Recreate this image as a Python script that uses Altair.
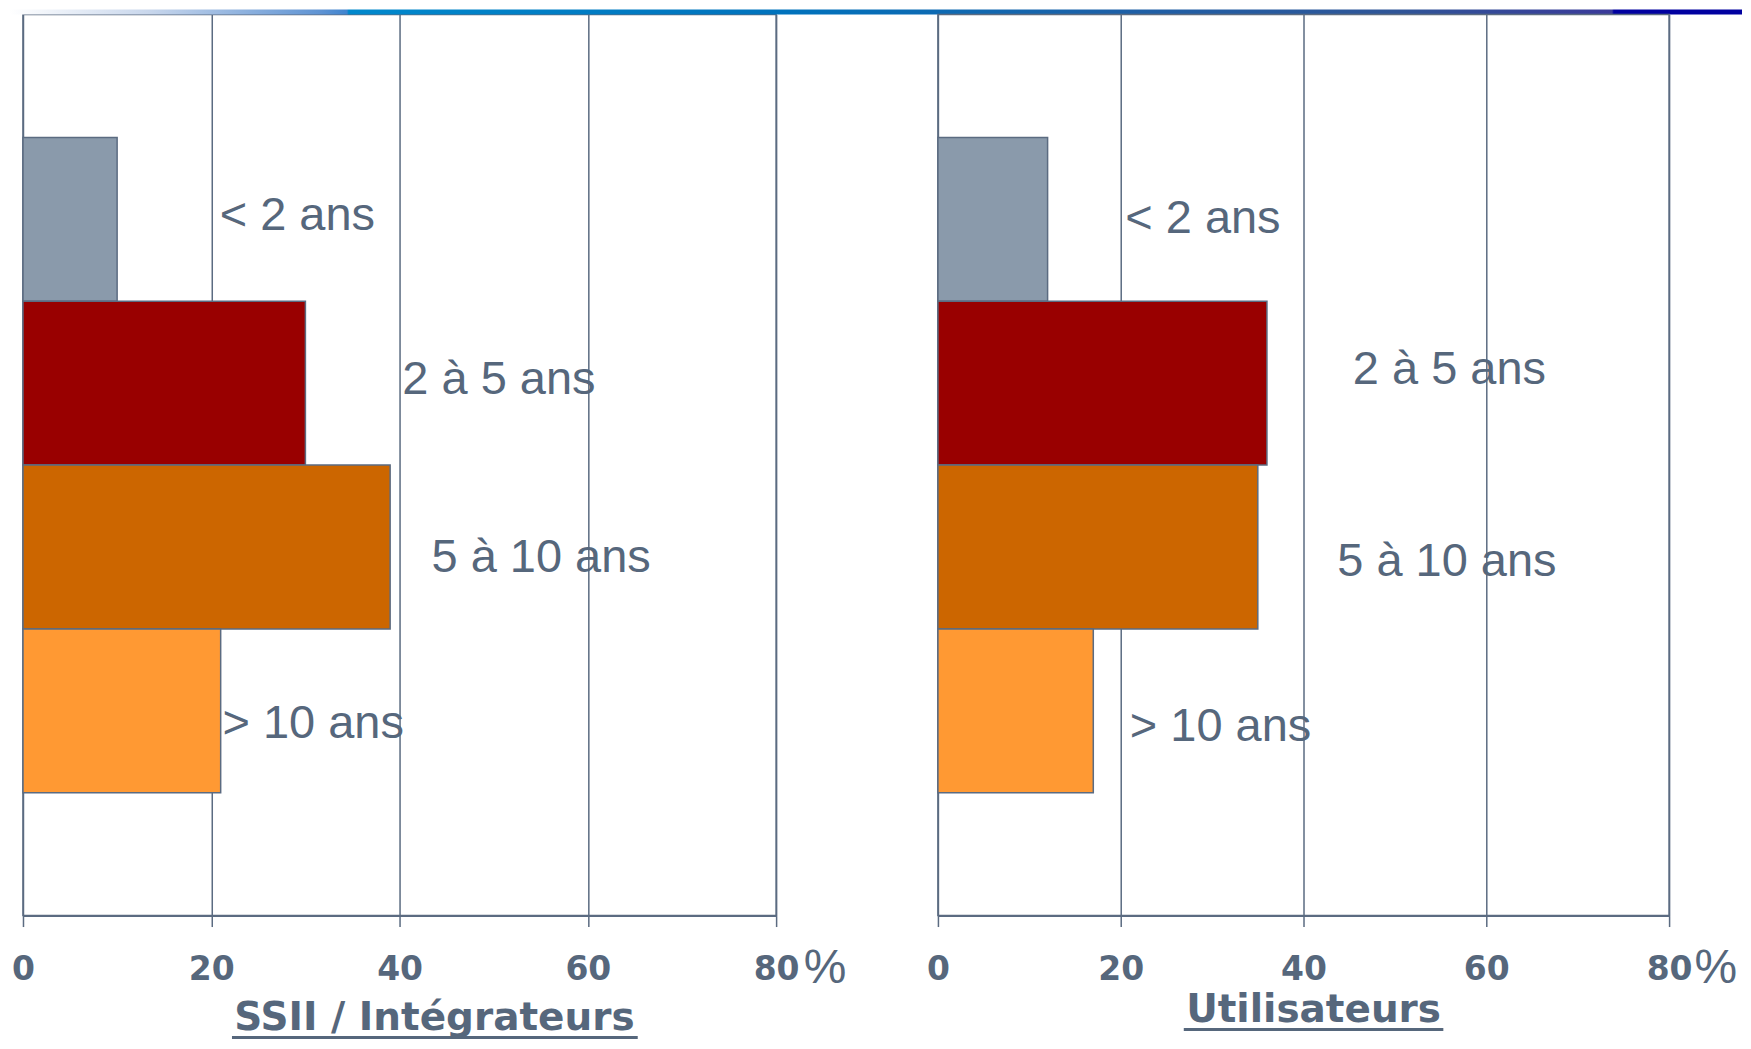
import altair as alt
import pandas as pd

categories = ["< 2 ans", "2 à 5 ans", "5 à 10 ans", "> 10 ans"]
ssii_values = [10, 30, 39, 21]
user_values = [12, 36, 35, 17]
# label anchors: along the % axis (data units) and down the rows (row units, 0 = top)
ssii_label_at = [20.9, 40.3, 43.4, 21.2]
user_label_at = [20.5, 45.4, 43.7, 21.0]
ssii_label_row = [1.23, 2.23, 3.32, 4.33]
user_label_row = [1.25, 2.17, 3.34, 4.35]
x_ticks = [0, 20, 40, 60, 80]
bar_colors = ["#8A9AAB", "#990000", "#CC6600", "#FF9933"]
panel_titles = ["SSII / Intégrateurs", "Utilisateurs"]
title_centers = [43.7, 41.1]
underline_spans = [(22.2, 65.3), (26.9, 55.3)]
percent_at = [85.2, 85.1]

SLATE = "#5B6B81"
TEXT = "#56677C"
ROWS = 5.5  # 4 bands + 0.75 outer padding on each side

banner = alt.Gradient(
    gradient="linear", x1=0, x2=1, y1=0, y2=0,
    stops=[
        alt.GradientStop(offset=0.0, color="#FFFFFF"),
        alt.GradientStop(offset=0.08, color="#C9D7EC"),
        alt.GradientStop(offset=0.18, color="#5E93D3"),
        alt.GradientStop(offset=0.195, color="#3F84CF"),
        alt.GradientStop(offset=0.196, color="#0088CC"),
        alt.GradientStop(offset=0.45, color="#0072BC"),
        alt.GradientStop(offset=0.65, color="#1E5FA6"),
        alt.GradientStop(offset=0.80, color="#2F5597"),
        alt.GradientStop(offset=0.925, color="#3A3A9A"),
        alt.GradientStop(offset=0.926, color="#0000A0"),
        alt.GradientStop(offset=1.0, color="#0000A0"),
    ],
)


def panel(i, values, label_at, label_row, width, title_y, underline_y, with_banner):
    df = pd.DataFrame({"cat": categories, "value": values,
                       "label_x": label_at, "label_row": label_row})
    xs = alt.Scale(domain=[0, 80], nice=False, zero=True)
    ys = alt.Scale(domain=categories, paddingInner=0, paddingOuter=0.75)
    base = alt.Chart(df)
    bars = base.mark_bar(stroke=SLATE, strokeWidth=1.5).encode(
        x=alt.X(
            "value:Q", scale=xs, title=None,
            axis=alt.Axis(
                values=x_ticks, grid=True, gridColor=SLATE, gridWidth=1.5,
                domainColor=SLATE, domainWidth=2, tickColor=SLATE, tickWidth=1.5,
                tickSize=11, labelFont="DejaVu Sans", labelFontWeight="bold",
                labelFontSize=33, labelColor=TEXT, labelPadding=27,
                labelFlush=False, labelOverlap=False, title=None,
            ),
        ),
        y=alt.Y("cat:N", scale=ys, axis=None, sort=categories),
        color=alt.Color("cat:N", scale=alt.Scale(domain=categories, range=bar_colors),
                        legend=None),
    )
    labels = base.mark_text(
        align="left", baseline="middle", font="Liberation Sans", fontSize=47, color=TEXT
    ).encode(
        x=alt.X("label_x:Q", scale=xs, title=None),
        y=alt.Y("label_row:Q", axis=None,
                scale=alt.Scale(domain=[0, ROWS], reverse=True, nice=False, zero=False)),
        text="cat:N",
    )
    tdf = pd.DataFrame({"t": [panel_titles[i]], "p": ["%"]})
    tbase = alt.Chart(tdf)
    pct = tbase.mark_text(
        align="center", baseline="middle", font="Liberation Sans", fontSize=48, color=TEXT
    ).encode(x=alt.XDatum(percent_at[i], title=None), y=alt.value(956), text="p:N")
    title = tbase.mark_text(
        align="center", baseline="alphabetic", font="DejaVu Sans", fontWeight="bold",
        fontSize=39, color=TEXT
    ).encode(x=alt.XDatum(title_centers[i], title=None), y=alt.value(title_y), text="t:N")
    uline = tbase.mark_rule(color=TEXT, strokeWidth=3).encode(
        x=alt.XDatum(underline_spans[i][0], title=None),
        x2=alt.X2Datum(underline_spans[i][1]),
        y=alt.value(underline_y),
    )
    layers = [bars, labels, pct, title, uline]
    if with_banner:
        band = tbase.mark_rect(color=banner).encode(
            x=alt.value(-14), x2=alt.value(1721), y=alt.value(-5), y2=alt.value(0)
        )
        layers.append(band)
    return (
        alt.layer(*layers)
        .resolve_scale(y="independent")
        .properties(width=width, height=902)
    )


left = panel(0, ssii_values, ssii_label_at, ssii_label_row, 754, 1017, 1024, True)
right = panel(1, user_values, user_label_at, user_label_row, 732, 1009, 1016, False)

chart = (
    alt.hconcat(left, right, spacing=162, bounds="flush")
    .properties(padding=0, background="white")
    .configure_view(stroke=SLATE, strokeWidth=1.5)
)

chart.save("out.html", embed_options={"renderer": "svg", "actions": False})
